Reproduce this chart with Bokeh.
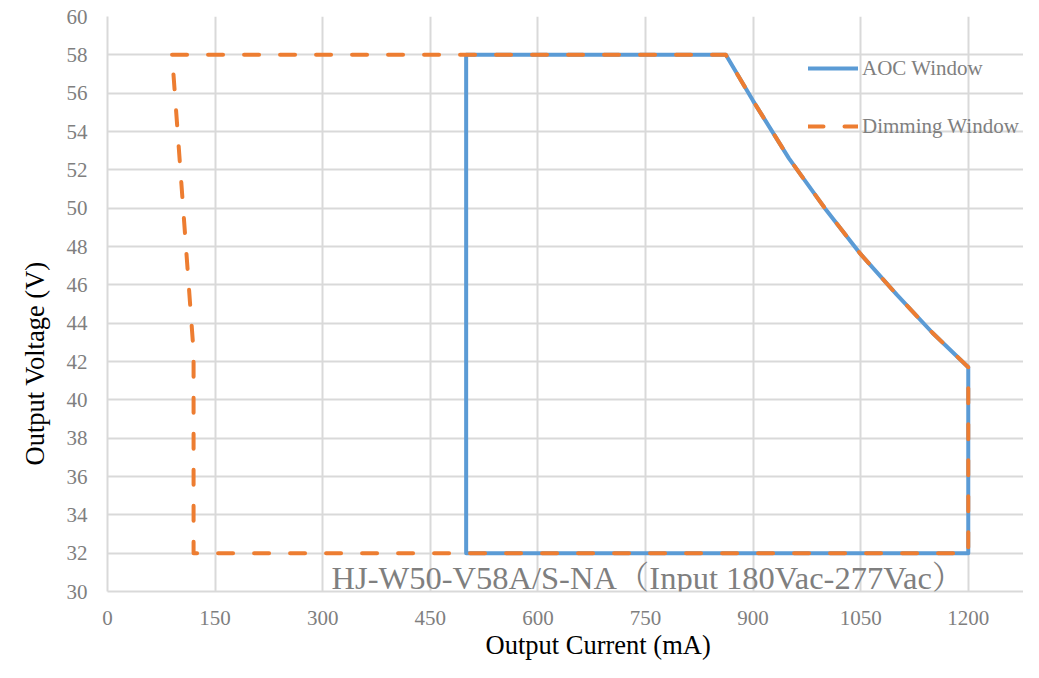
import math
from bokeh.plotting import figure
from bokeh.models import Range1d, FixedTicker, Label, Legend, LegendItem, Title
from bokeh.embed import file_html
from bokeh.resources import INLINE

# ---- data ----
aoc_current = [500, 500, 862, 900, 950, 1000, 1050, 1100, 1150, 1200, 1200, 500]
aoc_voltage = [32, 58, 58, 55.6, 52.6, 50.0, 47.6, 45.5, 43.5, 41.7, 32, 32]

dim_current = [90, 862, 900, 950, 1000, 1050, 1100, 1150, 1200, 1200, 120, 120, 90]
dim_voltage = [58, 58, 55.6, 52.6, 50.0, 47.6, 45.5, 43.5, 41.7, 32, 32, 42.5, 58]

x_ticks = [0, 150, 300, 450, 600, 750, 900, 1050, 1200]
y_ticks = list(range(30, 61, 2))

series_names = ["AOC Window", "Dimming Window"]
note_text = "HJ-W50-V58A/S-NA（Input 180Vac-277Vac）"
x_title = "Output Current (mA)"
y_title = "Output Voltage (V)"

SERIF = "'Liberation Serif', 'Times New Roman', 'Noto Serif CJK SC', 'Noto Sans CJK SC', serif"
BLUE = "#5B9BD5"
ORANGE = "#ED7D31"
GRID = "#D9D9D9"
GRAY = "#7F7F7F"

p = figure(width=1023, height=662, output_backend="svg", toolbar_location=None,
           x_range=Range1d(0, 1277), y_range=Range1d(30, 60),
           min_border_left=107, min_border_right=0, min_border_top=16, min_border_bottom=71)
p.outline_line_color = None
p.background_fill_color = "white"
p.border_fill_color = "white"

for ax in (p.xaxis[0], p.yaxis[0]):
    ax.axis_line_color = GRID
    ax.axis_line_width = 2
    ax.major_tick_line_color = None
    ax.minor_tick_line_color = None
    ax.major_label_text_font = SERIF
    ax.major_label_text_font_size = "21px"
    ax.major_label_text_color = GRAY
p.xaxis[0].ticker = FixedTicker(ticks=x_ticks)
p.yaxis[0].ticker = FixedTicker(ticks=y_ticks)
p.xaxis[0].major_label_standoff = 13
p.yaxis[0].major_label_standoff = 14

p.xgrid[0].ticker = FixedTicker(ticks=x_ticks)
p.ygrid[0].ticker = FixedTicker(ticks=y_ticks)
p.grid.grid_line_color = GRID
p.grid.grid_line_width = 2

r_aoc = p.line(aoc_current, aoc_voltage, line_color=BLUE, line_width=4,
               line_join="round", line_cap="round")
r_dim = p.line(dim_current, dim_voltage, line_color=ORANGE, line_width=4,
               line_dash="15 21", line_join="round", line_cap="round")

legend = Legend(items=[LegendItem(label=series_names[0], renderers=[r_aoc]),
                       LegendItem(label=series_names[1], renderers=[r_dim])],
                location=(701, 452), orientation="vertical",
                background_fill_alpha=0, border_line_color=None,
                padding=0, margin=0, spacing=32,
                glyph_width=50, glyph_height=26, label_height=26, label_standoff=4,
                label_text_font=SERIF, label_text_font_size="21px",
                label_text_color=GRAY)
p.add_layout(legend)

p.add_layout(Label(x=753.5, y=30.68, text=note_text, text_align="center",
                   text_baseline="middle", text_font=SERIF,
                   text_font_size="32.5px", text_color=GRAY))

# axis titles as side titles
xt = Title(text=x_title, align="left", offset=378, standoff=0,
           text_font=SERIF, text_font_size="26.5px", text_font_style="normal",
           text_color="black")
p.add_layout(xt, "below")
yt = Title(text=y_title, align="left", offset=126, standoff=24, vertical_align="top",
           text_font=SERIF, text_font_size="26.5px", text_font_style="normal",
           text_color="black")
p.add_layout(yt, "left")

open("out.html", "w").write(file_html(p, INLINE))
